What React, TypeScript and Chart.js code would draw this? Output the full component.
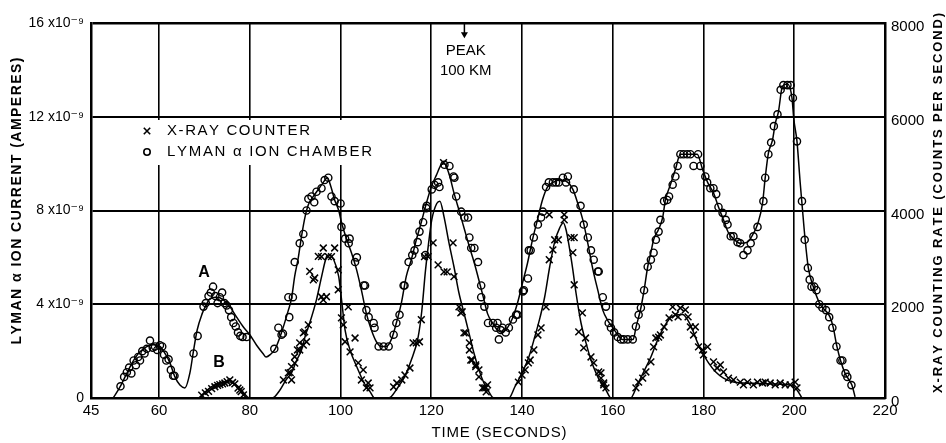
import React, { useEffect, useRef } from 'react';
import { Chart, registerables } from 'chart.js';

Chart.register(...registerables);

const FONT = '"Liberation Sans", "DejaVu Sans", Arial, sans-serif';

// x axis (time, seconds) tick values
const X_TICKS = [45, 60, 80, 100, 120, 140, 160, 180, 200, 220];

// Lyman alpha ion chamber: fitted curve (time s, current x1e-9 A)
const lymanCurve: [number, number][] = [
  [49.9, 0], [51.4, 0.47], [52.5, 0.9], [53.6, 1.33], [54.7, 1.7], [55.8, 1.97], [57.4, 2.2], [58.7, 2.27],
  [60.2, 2.2], [61.3, 1.9], [62.4, 1.5], [63.5, 0.9], [64.6, 0.55], [65.7, 0.43], [66.8, 1.07], [67.5, 1.9],
  [68.4, 2.9], [69.5, 3.6], [70.2, 3.9], [71.3, 4.25], [72.8, 4.3], [74.1, 4.2], [75.6, 3.9], [77.1, 3.45],
  [78.5, 3.05], [80, 2.7], [81.5, 2.25], [82.9, 1.9], [83.6, 1.75], [84.5, 1.85], [85.6, 2.1], [87, 2.8],
  [88.5, 3.75], [89.2, 4.25], [89.9, 5.2], [90.7, 6.0], [91.4, 6.9], [92.2, 7.75], [92.9, 8.25], [94, 8.6],
  [95.1, 8.9], [96.2, 9.2], [97.1, 9.4], [97.9, 9.0], [98.7, 8.45], [99.6, 8.0], [100.2, 7.5], [101.3, 6.8],
  [102.4, 6.2], [103.5, 5.5], [104.6, 4.6], [105.7, 3.6], [106.8, 2.9], [107.9, 2.4], [109, 2.2], [110.1, 2.2],
  [111.2, 2.5], [112.3, 3.2], [113.4, 4.05], [114.5, 5.2], [115.6, 5.9], [116.7, 6.75], [117.8, 7.5], [118.9, 8.3],
  [120, 9.0], [121.1, 9.5], [122.2, 9.95], [122.9, 10.0], [124, 9.5], [125, 8.75], [126.2, 7.95], [127.3, 7.2],
  [128.4, 6.45], [129.5, 5.75], [130.6, 4.95], [131.6, 4.2], [132.4, 3.6], [133.5, 3.2], [134.6, 2.9], [135.7, 2.8],
  [136.8, 3.0], [137.9, 3.4], [139, 4.05], [140.1, 4.9], [141.2, 5.75], [142.3, 6.75], [143.4, 7.6], [144.5, 8.45],
  [145.6, 9.0], [146.8, 9.2], [148.6, 9.3], [150.1, 9.2], [151.2, 8.9], [152.3, 8.3], [153.4, 7.6], [154.5, 6.6],
  [155.6, 5.5], [156.7, 4.6], [157.8, 3.75], [158.9, 3.3], [160, 3.0], [161.1, 2.7], [162, 2.5], [164.5, 2.5],
  [165.1, 3.0], [166.2, 3.85], [166.9, 4.6], [167.7, 5.6], [168.4, 6.2], [169, 6.75], [170.1, 7.2], [171, 7.7],
  [171.6, 8.45], [172.7, 9.1], [173.8, 9.75], [174.9, 10.4], [178.6, 10.4], [179.8, 9.75], [180.9, 9.2], [182.2, 8.75],
  [183.3, 8.15], [184.4, 7.6], [185.5, 7.05], [186.6, 6.8], [188.1, 6.6], [189.7, 6.65], [190.8, 6.95], [191.9, 7.4],
  [193, 8.3], [193.6, 9.4], [194.3, 10.45], [195.2, 11.0], [195.8, 11.7], [196.5, 12.2], [197.4, 13.3], [198.5, 13.4],
  [199.5, 12.8], [199.9, 11.9], [200.6, 10.95], [201.3, 9.2], [201.7, 8.3], [202.4, 6.75], [203.1, 5.55], [204.2, 4.75],
  [205.7, 4.0], [207.9, 3.45], [208.6, 3.0], [209.4, 2.2], [210.2, 1.6], [211.2, 1.05], [212.7, 0.55], [213.4, 0.05],
];

// Lyman alpha ion chamber: measured points (circles)
const lymanPoints: [number, number][] = [
  [51.5, 0.5], [52.3, 0.9], [52.9, 1.1], [53.4, 1.3], [53.9, 1.05], [54.4, 1.6], [54.9, 1.4], [55.4, 1.75],
  [55.8, 1.6], [56.3, 2.0], [56.8, 1.9], [57.3, 2.1], [58, 2.45], [58.6, 2.15], [59.1, 2.2], [59.6, 2.05],
  [60.2, 2.25], [60.7, 2.2], [61.1, 1.85], [61.6, 1.6], [62.1, 1.65], [62.6, 1.2], [63.1, 0.95], [63.4, 0.95],
  [67.6, 1.9], [68.5, 2.65], [69.8, 3.9], [70.3, 4.05], [70.9, 4.35], [71.4, 4.5], [71.9, 4.75], [72.4, 4.35],
  [72.9, 4.05], [73.4, 4.3], [73.9, 4.5], [74.4, 4.05], [74.9, 3.95], [75.4, 3.75], [75.9, 3.45], [76.4, 3.2],
  [76.9, 3.05], [77.4, 2.8], [77.9, 2.65], [78.4, 2.6], [79.3, 2.6],
  [85.4, 2.1], [86.3, 3.0], [87, 2.7], [87.3, 2.75], [88.5, 4.3], [88.7, 3.45], [89.5, 4.3], [89.9, 5.8],
  [91, 6.6], [91.8, 7.0], [92.5, 8.0], [92.9, 8.5], [93.6, 8.6], [94.2, 8.35], [94.7, 8.8], [95.8, 8.95],
  [96.5, 9.3], [97.3, 9.4], [98, 8.6], [98.7, 8.4], [100, 8.3], [100.2, 7.3], [101, 6.8], [101.8, 6.6],
  [102, 6.8], [103.2, 5.8], [103.6, 6.0], [105.1, 4.8], [105.4, 4.8], [105.7, 3.75], [106.2, 3.45], [107.3, 3.2],
  [107.5, 3.0], [108.4, 2.2], [109.5, 2.2], [110.6, 2.2], [111.7, 2.7], [112.3, 3.2], [113, 3.55], [113.9, 4.8],
  [114.1, 4.8], [115, 5.8], [115.8, 6.1], [116.3, 6.3], [117, 6.65], [117.4, 7.1], [118.2, 7.5], [118.7, 6.1],
  [118.9, 8.1], [119, 8.2], [120.1, 8.9], [120.7, 9.1], [121.5, 9.2], [121.8, 9.0], [122.9, 9.95], [124, 9.9],
  [124.9, 9.45], [125.1, 9.4], [125.5, 8.6], [126.6, 7.95], [127.3, 7.7], [128.1, 7.7], [128.4, 6.85], [128.8, 6.4],
  [129.5, 6.4], [130.3, 5.8], [131, 4.8], [131, 4.3], [131.7, 3.9], [132.5, 3.2], [133.6, 3.2], [134.3, 3.0],
  [134.6, 3.2], [134.9, 2.5], [135.3, 2.9], [135.7, 3.0], [136.4, 2.8], [137.1, 3.0], [138, 3.35], [138.7, 3.55],
  [139, 3.55], [140.2, 4.55], [140.4, 4.6], [141.3, 5.1], [141.5, 6.3], [141.9, 6.3], [142.6, 6.85], [143.5, 7.4],
  [144.2, 7.7], [144.6, 7.95], [145.3, 9.0], [145.9, 9.2], [146.8, 9.2], [147.5, 9.2], [148.1, 9.2], [149, 9.4],
  [149.7, 9.2], [150.1, 9.45], [151.4, 8.9], [152.9, 8.2], [153.6, 7.4], [154.5, 6.85], [155.2, 6.3], [155.8, 5.9],
  [156.7, 5.4], [156.9, 5.4], [157.8, 4.3], [158.5, 3.9], [159.1, 3.2], [159.6, 3.0], [160.3, 2.8], [161.1, 2.6],
  [161.8, 2.5], [162.4, 2.5], [163.3, 2.5], [164.4, 2.5],
  [165.1, 3.05], [165.7, 3.55], [166.2, 3.85], [166.9, 4.6], [167.7, 5.6], [168.4, 5.9], [169, 6.2], [169.5, 6.75],
  [170.1, 7.1], [170.5, 7.6], [171.3, 8.4], [172, 8.45], [172.4, 8.6], [173.2, 9.1], [173.8, 9.45], [174.3, 9.9],
  [174.9, 10.4], [175.6, 10.4], [176.4, 10.4], [177.1, 10.4], [177.8, 9.9], [178.8, 10.4], [179.3, 9.9], [180.4, 9.45],
  [180.8, 9.2], [181.5, 8.95], [182.2, 8.95], [182.8, 8.7], [183.3, 8.15], [184.2, 7.9], [184.9, 7.6], [185.3, 7.4],
  [186, 6.9], [186.6, 6.9], [187.5, 6.65], [188.1, 6.6], [188.8, 6.1], [189.7, 6.3], [190.4, 6.6], [191, 6.9],
  [191.9, 7.3], [193.2, 8.4], [193.6, 9.4], [194.3, 10.4], [194.9, 10.9], [195.5, 11.6], [196.3, 12.1], [197, 13.15],
  [197.6, 13.35], [198.5, 13.35], [199.2, 13.35], [199.7, 12.8], [200.6, 10.95], [201.7, 8.4], [202.3, 6.75], [203, 5.55],
  [203.4, 5.05], [203.8, 4.75], [204.4, 4.75], [204.9, 4.6], [205.5, 4.0], [206.2, 3.85], [207, 3.75], [207.7, 3.45],
  [208.4, 3.0], [209.3, 2.2], [210.2, 1.6], [210.6, 1.6], [211.3, 1.05], [211.7, 0.9], [212.6, 0.55],
];

// X-ray counter: fitted curve (time s, counts per second)
const xrayCurve: [number, number][] = [
  [69, 0], [70, 110], [71, 200], [72, 270], [73, 315], [74.5, 340], [75.5, 340], [76.5, 310], [77.5, 240],
  [78.5, 130], [79.5, 20], [80, 0], [85, 0], [86.5, 150], [88, 390], [89.2, 535], [90.3, 800], [91.4, 1025],
  [92.3, 1350], [93.2, 1600], [94.7, 2100], [95.8, 2580], [96.9, 3010], [97.4, 3050], [98.5, 2950], [99.6, 2590],
  [100.3, 2030], [101, 1450], [102.1, 1025], [103.6, 660], [105.2, 320], [106.5, 135], [107.5, 0], [110.6, 0],
  [112.7, 235], [114.1, 450], [115.6, 810], [117.1, 1300], [117.9, 1850], [118.7, 2700], [119.4, 3300], [120.1, 3800],
  [121.2, 4150], [121.9, 4200], [122.8, 3870], [123.9, 3310], [125, 2800], [126.1, 2240], [127.2, 1815], [128.3, 1390],
  [129.4, 960], [130.5, 600], [131.6, 320], [132.7, 130], [133.8, 0], [137.1, 0], [138.4, 235], [140, 535],
  [141.5, 875], [142.8, 1300], [144, 1730], [145, 2160], [146.1, 2800], [147.2, 3330], [148.3, 3630], [149.1, 3740],
  [149.7, 3590], [150.4, 3230], [151.2, 2735], [151.9, 2240], [153, 1600], [154.1, 1175], [155.2, 810], [156.3, 535],
  [157.4, 320], [158.5, 170], [159.6, 0], [163.9, 0], [165.4, 275], [166.8, 555], [168.4, 875], [169.9, 1240],
  [171.3, 1515], [172.7, 1710], [174.3, 1775], [175.4, 1780], [176.5, 1665], [177.6, 1450], [178.7, 1175], [179.8, 960],
  [181.1, 750], [182.7, 555], [184.4, 425], [186.6, 340], [188.8, 320], [191.9, 310], [195.5, 300], [199.2, 275],
  [200.6, 170], [201.7, 0],
];

// X-ray counter: measured points (crosses)
const xrayPoints: [number, number][] = [
  [69.4, 60], [70.2, 110], [70.9, 140], [71.6, 200], [72.3, 240], [72.9, 270], [73.4, 285], [74, 300], [74.5, 320],
  [75, 350], [75.6, 385], [76.2, 330], [76.7, 300], [77.4, 210], [77.8, 170], [78.1, 135], [78.6, 65],
  [87.4, 385], [88.5, 535], [88.9, 540], [89.2, 385], [89.2, 670], [89.9, 880], [89.9, 745], [90.5, 1025], [91, 1175],
  [91, 1025], [91.8, 1390], [91.8, 1130], [92.1, 1410], [92.5, 1200], [92.9, 1560], [93.2, 2700], [94, 2520], [94.3, 2560],
  [95.1, 3020], [95.8, 2160], [96.2, 2095], [96.9, 2160], [96.2, 3200], [98.7, 3200], [95.8, 3015], [97.3, 3015], [98, 3015],
  [99.5, 2735], [99.5, 2310], [100.2, 1710], [101.7, 1945], [100.6, 1560], [101, 1200], [102.1, 985], [103.2, 1280],
  [103.9, 750], [104.6, 385], [105, 600], [105.7, 215], [106.5, 215], [106.1, 320],
  [111.7, 235], [112.4, 320], [113.5, 385], [114.2, 490], [115.3, 640], [116, 1175], [116.7, 1175], [117.4, 1200],
  [117.8, 1670], [118.5, 3015], [119.3, 3015], [120.4, 3310], [121.5, 2840], [122.7, 5020], [122.8, 2690], [123.5, 2690],
  [124.8, 3310], [125, 2590], [126.1, 1945], [126.5, 1815], [126.8, 1840], [127.2, 1390], [127.6, 1390], [128.4, 1175],
  [128.4, 1025], [128.7, 810], [129, 810], [129.8, 705], [129.8, 670], [130.5, 600], [130.5, 450], [131.3, 215],
  [131.6, 215], [132, 215], [132.1, 130], [132.4, 280],
  [139.2, 340], [140, 490], [140.7, 600], [141.4, 750], [141.8, 810], [142.6, 1025], [143.5, 1345], [144.2, 1495],
  [145.3, 1945], [146, 2950], [146.8, 3160], [147.2, 3375], [148, 3375], [146, 3910], [149.3, 3910], [149.3, 3800],
  [150.8, 3420], [151.5, 3420], [151.2, 3100], [151.5, 2415], [153.3, 1815], [152.5, 1410], [154, 1280], [153.6, 1070],
  [155.2, 875], [155.8, 750], [156.9, 555], [157.4, 425], [158, 320], [158.5, 215], [157.4, 535], [158, 280],
  [165.1, 215], [165.7, 340], [166.6, 425], [167.3, 555], [168.4, 770], [169, 1090], [169.5, 1280], [170.1, 1300],
  [170.5, 1345], [171.3, 1515], [172.4, 1710], [173.2, 1945], [173.8, 1775], [174.4, 1730], [174.9, 1920], [176, 1880],
  [176.6, 1730], [177.1, 1515], [178.2, 1515], [177.8, 1345], [178.9, 1090], [179.8, 1025], [180.9, 1090], [180, 920],
  [182.2, 770], [183, 640], [183.7, 705], [184.4, 555], [185.5, 425], [186.6, 385], [188.1, 340], [188.8, 280],
  [189.7, 340], [191, 280], [191.9, 340], [193, 320], [193.6, 340], [194.7, 320], [195.8, 280], [196.9, 320],
  [198, 280], [199.1, 280], [200.2, 340], [200.6, 215],
];

const toXY = (arr: [number, number][]) => arr.map(([x, y]) => ({ x, y }));

function spacedText(ctx: CanvasRenderingContext2D, text: string, cx: number, cy: number, target: number, align: 'center' | 'left') {
  const chars = Array.from(text);
  const widths = chars.map((c) => ctx.measureText(c).width);
  const natural = widths.reduce((a, b) => a + b, 0);
  const gap = chars.length > 1 ? (target - natural) / (chars.length - 1) : 0;
  let x = align === 'center' ? cx - target / 2 : cx;
  ctx.textAlign = 'left';
  ctx.textBaseline = 'middle';
  chars.forEach((c, i) => {
    ctx.fillText(c, x, cy);
    x += widths[i] + gap;
  });
}

const decorPlugin = {
  id: 'decor',
  beforeDatasetsDraw(chart: any) {
    const { ctx, chartArea: a } = chart;
    ctx.save();
    // legend box (covers the grid)
    ctx.fillStyle = '#fff';
    ctx.fillRect(a.left + 49, a.top + 97, 238, 45);
    ctx.strokeStyle = '#000';
    ctx.fillStyle = '#000';
    ctx.lineWidth = 1.6;
    const mx = a.left + 56;
    const y1 = a.top + 108;
    const y2 = a.top + 129;
    ctx.beginPath();
    ctx.moveTo(mx - 3.2, y1 - 3.2); ctx.lineTo(mx + 3.2, y1 + 3.2);
    ctx.moveTo(mx + 3.2, y1 - 3.2); ctx.lineTo(mx - 3.2, y1 + 3.2);
    ctx.stroke();
    ctx.beginPath();
    ctx.arc(mx, y2, 3.2, 0, Math.PI * 2);
    ctx.stroke();
    ctx.font = `15px ${FONT}`;
    spacedText(ctx, 'X-RAY COUNTER', a.left + 76, y1, 143, 'left');
    spacedText(ctx, 'LYMAN \u03b1 ION CHAMBER', a.left + 76, y2, 205, 'left');
    ctx.restore();
  },
  afterDatasetsDraw(chart: any) {
    const { ctx } = chart;
    const xs = chart.scales.x;
    const ys = chart.scales.y;
    ctx.save();
    ctx.fillStyle = '#000';
    ctx.strokeStyle = '#000';
    ctx.textAlign = 'center';
    ctx.textBaseline = 'middle';
    ctx.font = `bold 16px ${FONT}`;
    ctx.fillText('A', xs.getPixelForValue(69.9), ys.getPixelForValue(5.34));
    ctx.fillText('B', xs.getPixelForValue(73.2), ys.getPixelForValue(1.5));
    ctx.font = `15px ${FONT}`;
    const px = xs.getPixelForValue(127.6);
    ctx.fillText('PEAK', px, ys.getPixelForValue(14.8));
    ctx.fillText('100 KM', px, ys.getPixelForValue(13.95));
    // arrow
    const ax = xs.getPixelForValue(127.3);
    const top = ys.getPixelForValue(16);
    const tip = ys.getPixelForValue(15.35);
    ctx.lineWidth = 1.5;
    ctx.beginPath();
    ctx.moveTo(ax, top);
    ctx.lineTo(ax, tip - 4);
    ctx.stroke();
    ctx.beginPath();
    ctx.moveTo(ax - 3.5, tip - 6);
    ctx.lineTo(ax + 3.5, tip - 6);
    ctx.lineTo(ax, tip);
    ctx.closePath();
    ctx.fill();
    ctx.restore();
  },
  afterDraw(chart: any) {
    const { ctx, chartArea: a } = chart;
    ctx.save();
    ctx.fillStyle = '#000';
    // x title
    ctx.font = `15px ${FONT}`;
    spacedText(ctx, 'TIME (SECONDS)', (a.left + a.right) / 2 + 11, a.bottom + 35, 135, 'center');
    // left title
    ctx.font = `bold 14px ${FONT}`;
    ctx.save();
    ctx.translate(17, 201);
    ctx.rotate(-Math.PI / 2);
    spacedText(ctx, 'LYMAN \u03b1 ION CURRENT (AMPERES)', 0, 0, 287, 'center');
    ctx.restore();
    // right title
    ctx.font = `bold 13px ${FONT}`;
    ctx.save();
    ctx.translate(938, 203);
    ctx.rotate(-Math.PI / 2);
    spacedText(ctx, 'X-RAY COUNTING RATE (COUNTS PER SECOND)', 0, 0, 380, 'center');
    ctx.restore();
    ctx.restore();
  },
};

export default function App() {
  const ref = useRef<HTMLCanvasElement>(null);
  useEffect(() => {
    if (!ref.current) return;
    const chart = new Chart(ref.current, {
      type: 'scatter',
      data: {
        datasets: [
          {
            label: 'Lyman curve',
            data: toXY(lymanCurve),
            yAxisID: 'y',
            showLine: true,
            pointRadius: 0,
            borderColor: '#000',
            borderWidth: 1.5,
            cubicInterpolationMode: 'monotone',
            tension: 0.4,
          } as any,
          {
            label: 'Lyman points',
            data: toXY(lymanPoints),
            yAxisID: 'y',
            showLine: false,
            pointStyle: 'circle',
            pointRadius: 3.6,
            pointBorderWidth: 1.4,
            pointBorderColor: '#000',
            pointBackgroundColor: 'rgba(0,0,0,0)',
          },
          {
            label: 'X-ray curve',
            data: toXY(xrayCurve),
            yAxisID: 'y2',
            showLine: true,
            pointRadius: 0,
            borderColor: '#000',
            borderWidth: 1.5,
            cubicInterpolationMode: 'monotone',
            tension: 0.4,
          } as any,
          {
            label: 'X-ray points',
            data: toXY(xrayPoints),
            yAxisID: 'y2',
            showLine: false,
            pointStyle: 'crossRot',
            pointRadius: 4.8,
            pointBorderWidth: 1.5,
            pointBorderColor: '#000',
          },
        ],
      },
      options: {
        animation: false,
        responsive: false,
        devicePixelRatio: 1,
        layout: { padding: { top: 23, left: 0, right: 0, bottom: 0 } },
        plugins: { legend: { display: false }, tooltip: { enabled: false } },
        scales: {
          x: {
            type: 'linear',
            min: 45,
            max: 220,
            afterBuildTicks: (s: any) => { s.ticks = X_TICKS.map((v) => ({ value: v })); },
            afterFit: (s: any) => { s.height = 45; },
            ticks: {
              autoSkip: false,
              maxRotation: 0,
              padding: 4,
              color: '#000',
              font: { family: FONT, size: 15 },
              callback: (v: any) => String(v),
            },
            grid: {
              color: '#000',
              lineWidth: 1.6,
              drawTicks: false,
            },
            border: { display: true, color: '#000', width: 2.5 },
          },
          y: {
            type: 'linear',
            position: 'left',
            min: 0,
            max: 16,
            afterFit: (s: any) => { s.width = 91; },
            ticks: {
              stepSize: 4,
              padding: 7,
              color: '#000',
              font: { family: FONT, size: 14 },
              callback: (v: any) => (v === 0 ? '0' : `${v} x10\u207b\u2079`),
            },
            grid: {
              color: '#000',
              lineWidth: (c: any) => (c.tick && c.tick.value === 16 ? 2.5 : 2),
              drawTicks: false,
            },
            border: { display: true, color: '#000', width: 2.5 },
          },
          y2: {
            type: 'linear',
            position: 'right',
            min: 0,
            max: 8000,
            afterFit: (s: any) => { s.width = 61; },
            ticks: {
              stepSize: 2000,
              padding: 6,
              labelOffset: 4,
              color: '#000',
              font: { family: FONT, size: 15 },
              callback: (v: any) => String(v),
            },
            grid: { display: false, drawTicks: false },
            border: { display: true, color: '#000', width: 2.5 },
          },
        },
      },
      plugins: [decorPlugin],
    } as any);
    return () => chart.destroy();
  }, []);
  return (
    <div style={{ position: 'absolute', left: 0, top: 0, width: 946, height: 443, background: '#fff' }}>
      <canvas ref={ref} width={946} height={443} style={{ display: 'block', width: 946, height: 443 }} />
    </div>
  );
}
